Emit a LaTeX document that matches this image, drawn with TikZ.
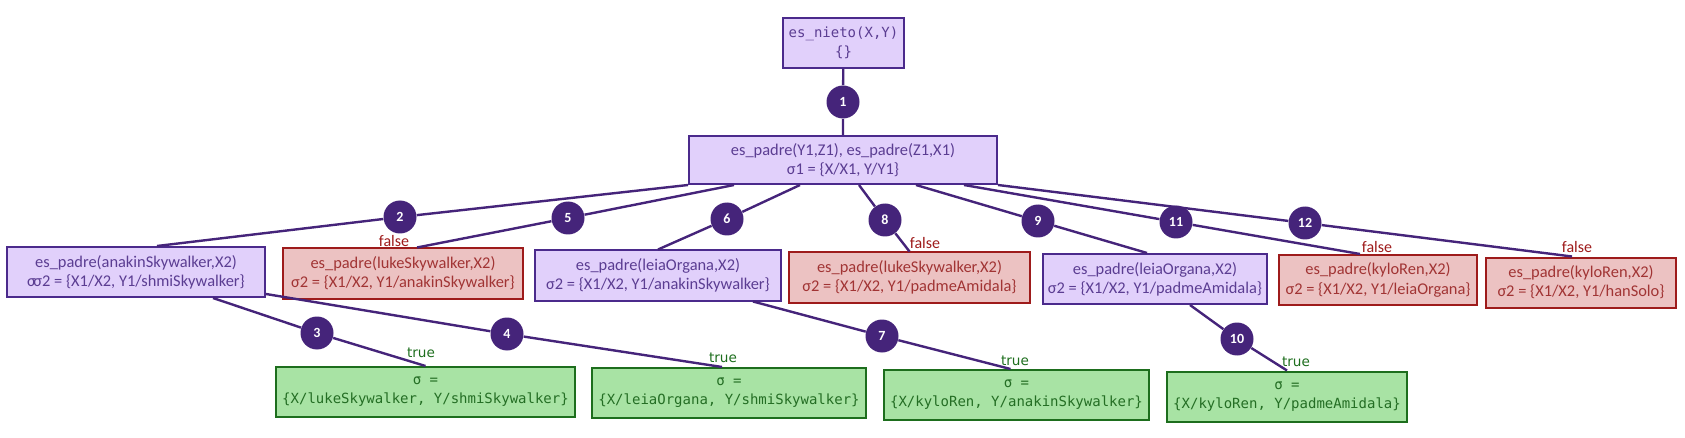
\documentclass[tikz,border=0pt]{standalone}
\usepackage{fontspec}
\setmainfont{Carlito}
\newfontfamily\codefont{DejaVu Sans Mono}
\newfontfamily\truefont{DejaVu Sans}
\definecolor{goalfill}{HTML}{E1D0FB}
\definecolor{goalline}{HTML}{4B2A8C}
\definecolor{goaltext}{HTML}{5B3D92}
\definecolor{failfill}{HTML}{ECC2C2}
\definecolor{failline}{HTML}{9E1B1B}
\definecolor{failtext}{HTML}{A13434}
\definecolor{donefill}{HTML}{A8E3A4}
\definecolor{doneline}{HTML}{1D6E1D}
\definecolor{donetext}{HTML}{246E24}
\definecolor{edgecol}{HTML}{45247A}
\tikzset{goal/.style={draw=goalline, fill=goalfill, text=goaltext,
  line width=1pt, align=center, inner sep=1pt, minimum height=25pt,
  font=\fontsize{8.2}{9.6}\selectfont},
  fail/.style={goal, draw=failline, fill=failfill, text=failtext},
  done/.style={goal, draw=doneline, fill=donefill, text=donetext,
  font=\codefont\fontsize{7}{9.6}\selectfont},
  num/.style={circle, fill=edgecol, text=white, minimum size=16.5pt,
  inner sep=0pt, font=\bfseries\fontsize{7}{7}\selectfont},
  lbl/.style={inner sep=0pt, font=\fontsize{8}{8}\selectfont}}
\begin{document}
\begin{tikzpicture}[x=0.5pt, y=-0.5pt,
  edge/.style={draw=edgecol, line width=1.2pt}]
  \useasboundingbox (0,0) rectangle (1685,438);
  % Query and first resolvent
  \node[goal, minimum width=60.5pt, font=\codefont\fontsize{7}{9.6}\selectfont]
    (root) at (843.5,43) {es\_nieto(X,Y)\\\{\}};
  \node[goal, minimum width=154pt, minimum height=24pt] (res) at (843,160)
    {es\_padre(Y1,Z1), es\_padre(Z1,X1)\\σ1 = \{X/X1, Y/Y1\}};
  % Second level
  \node[goal, minimum width=129pt] (anakin) at (136,272)
    {es\_padre(anakinSkywalker,X2)\\σ\kern-1.2ptσ2 = \{X1/X2, Y1/shmiSkywalker\}};
  \node[fail, minimum width=120pt] (lukeA) at (403,273.5)
    {es\_padre(lukeSkywalker,X2)\\σ2 = \{X1/X2, Y1/anakinSkywalker\}};
  \node[goal, minimum width=123pt] (leiaA) at (658,275.5)
    {es\_padre(leiaOrgana,X2)\\σ2 = \{X1/X2, Y1/anakinSkywalker\}};
  \node[fail, minimum width=120.5pt] (lukeP) at (909.5,277.5)
    {es\_padre(lukeSkywalker,X2)\\σ2 = \{X1/X2, Y1/padmeAmidala\}};
  \node[goal, minimum width=112pt] (leiaP) at (1155,279)
    {es\_padre(leiaOrgana,X2)\\σ2 = \{X1/X2, Y1/padmeAmidala\}};
  \node[fail, minimum width=99pt] (kyloL) at (1378,280)
    {es\_padre(kyloRen,X2)\\σ2 = \{X1/X2, Y1/leiaOrgana\}};
  \node[fail, minimum width=95pt] (kyloH) at (1581,282.5)
    {es\_padre(kyloRen,X2)\\σ2 = \{X1/X2, Y1/hanSolo\}};
  % Answers
  \node[done, minimum width=149.5pt] (ans1) at (425.5,392)
    {σ =\\\{X/lukeSkywalker, Y/shmiSkywalker\}};
  \node[done, minimum width=137pt] (ans2) at (729,393)
    {σ =\\\{X/leiaOrgana, Y/shmiSkywalker\}};
  \node[done, minimum width=132.5pt] (ans3) at (1016.5,395)
    {σ =\\\{X/kyloRen, Y/anakinSkywalker\}};
  \node[done, minimum width=120pt] (ans4) at (1287,396.5)
    {σ =\\\{X/kyloRen, Y/padmeAmidala\}};
  % Step numbers
  \node[num] (n1) at (843,102) {1};
  \node[num] (n2) at (400,217) {2};
  \node[num] (n3) at (317,333) {3};
  \node[num] (n4) at (507,334) {4};
  \node[num] (n5) at (568,218) {5};
  \node[num] (n6) at (727,219) {6};
  \node[num] (n7) at (882,336) {7};
  \node[num] (n8) at (885,220) {8};
  \node[num] (n9) at (1038,221) {9};
  \node[num] (n10) at (1237,339) {10};
  \node[num] (n11) at (1176,222) {11};
  \node[num] (n12) at (1305,223) {12};
  % Resolution steps
  \draw[edge] (root) -- (n1) -- (res);
  \draw[edge] (res.south west) -- (n2) -- ([xshift=10.5pt]anakin.north);
  \draw[edge] ([xshift=-54.5pt]res.south) -- (n5) -- ([xshift=7pt]lukeA.north);
  \draw[edge] ([xshift=-21.5pt]res.south) -- (n6) -- (leiaA.north);
  \draw[edge] ([xshift=8pt]res.south) -- (n8) -- (lukeP.north);
  \draw[edge] ([xshift=36.5pt]res.south) -- (n9) -- ([xshift=-4pt]leiaP.north);
  \draw[edge] ([xshift=60.5pt]res.south) -- (n11) -- ([xshift=-9pt]kyloL.north);
  \draw[edge] (res.south east) -- (n12) -- ([xshift=-4.5pt]kyloH.north);
  \draw[edge] ([xshift=38.5pt]anakin.south) -- (n3) -- (ans1.north);
  \draw[edge] ([yshift=2pt]anakin.south east) -- (n4) -- ([xshift=-3.5pt]ans2.north);
  \draw[edge] ([xshift=47.5pt]leiaA.south) -- (n7) -- ([xshift=-3pt]ans3.north);
  \draw[edge] ([xshift=17.5pt]leiaP.south) -- (n10) -- (ans4.north);
  % Outcomes
  \node[lbl, text=failline] (f1) at (394,241) {false};
  \node[lbl, text=failline] (f2) at (925,243) {false};
  \node[lbl, text=failline] (f3) at (1377,247) {false};
  \node[lbl, text=failline] (f4) at (1577,247) {false};
  \node[lbl, text=doneline, font=\truefont\fontsize{6.8}{7}\selectfont]
    (t1) at (421,353) {true};
  \node[lbl, text=doneline, font=\truefont\fontsize{6.8}{7}\selectfont]
    (t2) at (723,358) {true};
  \node[lbl, text=doneline, font=\truefont\fontsize{6.8}{7}\selectfont]
    (t3) at (1015,361) {true};
  \node[lbl, text=doneline, font=\truefont\fontsize{6.8}{7}\selectfont]
    (t4) at (1296,362) {true};
\end{tikzpicture}
\end{document}
